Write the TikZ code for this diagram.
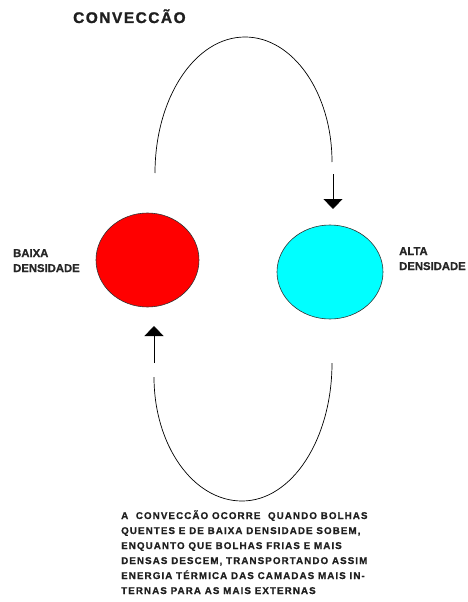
\documentclass[tikz,border=0pt]{standalone}
\usepackage{fontspec}
\setmainfont{Liberation Sans}[BoldFont={Liberation Sans Bold}]
\usepackage{tikz}
\usetikzlibrary{arrows.meta,shapes.geometric}
\definecolor{ciano}{RGB}{0,255,255}
\definecolor{vermelho}{RGB}{255,0,0}
\tikzset{
  bolha/.style={ellipse,draw=black!80,line width=.6pt,inner sep=0pt},
  ttl/.style={font=\bfseries\fontsize{15.4}{18}\selectfont\addfontfeature{LetterSpace=10,FakeBold=1.5},text=black!88,inner sep=0pt},
  lb/.style={font=\bfseries\fontsize{11.3}{15}\selectfont\addfontfeature{FakeBold=0.8},text=black!85,inner sep=0pt,align=left},
  txt/.style={font=\bfseries\fontsize{9.8}{15}\selectfont\addfontfeature{LetterSpace=11,FakeBold=0.8},text=black!88,inner sep=0pt,align=left},
  ciclo/.style={draw=black,line width=.7pt},
  seta/.style={-{Triangle[length=10pt,width=19pt]},draw=black,line width=.8pt},
}
\begin{document}
\begin{tikzpicture}[x=1pt,y=-1pt]
\useasboundingbox (0,0) rectangle (468,602);
\node[ttl,anchor=base west] (titulo) at (73,23) {CONVECCÃO};
% as duas bolhas
\node[bolha,fill=vermelho,minimum width=103pt,minimum height=94pt] (quente) at (147.5,260) {};
\node[bolha,fill=ciano,minimum width=106pt,minimum height=94pt] (fria) at (330,272) {};
\node[lb,anchor=base west] (baixa) at (13,272) {BAIXA\\DENSIDADE};
\node[lb,anchor=base west] (alta) at (399,270) {ALTA\\DENSIDADE};
% o ciclo de cima desce pela direita, o de baixo sobe pela esquerda
\coordinate (c1) at (155,173); \coordinate (c2) at (245,37); \coordinate (c3) at (332,162);
\draw[ciclo] (c1) .. controls (155,98) and (195,37) .. (c2)
  .. controls (293,37) and (332,93) .. (c3);
\coordinate (c4) at (154,377); \coordinate (c5) at (242,501); \coordinate (c6) at (332,363);
\draw[ciclo] (c4) .. controls (154,445) and (193,501) .. (c5)
  .. controls (292,501) and (332,439) .. (c6);
\coordinate (d1) at (333,174); \coordinate (d2) at (333,209);
\draw[seta] (d1) -- (d2);
\coordinate (s1) at (154,363); \coordinate (s2) at (154,326);
\draw[seta] (s1) -- (s2);
\node[txt,anchor=base west] (nota) at (121,594)
  {A \ CONVECCÃO OCORRE \ QUANDO BOLHAS\\
   QUENTES E DE BAIXA DENSIDADE SOBEM,\\
   ENQUANTO QUE BOLHAS FRIAS E MAIS\\
   DENSAS DESCEM, TRANSPORTANDO ASSIM\\
   ENERGIA TÉRMICA DAS CAMADAS MAIS IN-\\
   TERNAS PARA AS MAIS EXTERNAS};
\end{tikzpicture}
\end{document}
